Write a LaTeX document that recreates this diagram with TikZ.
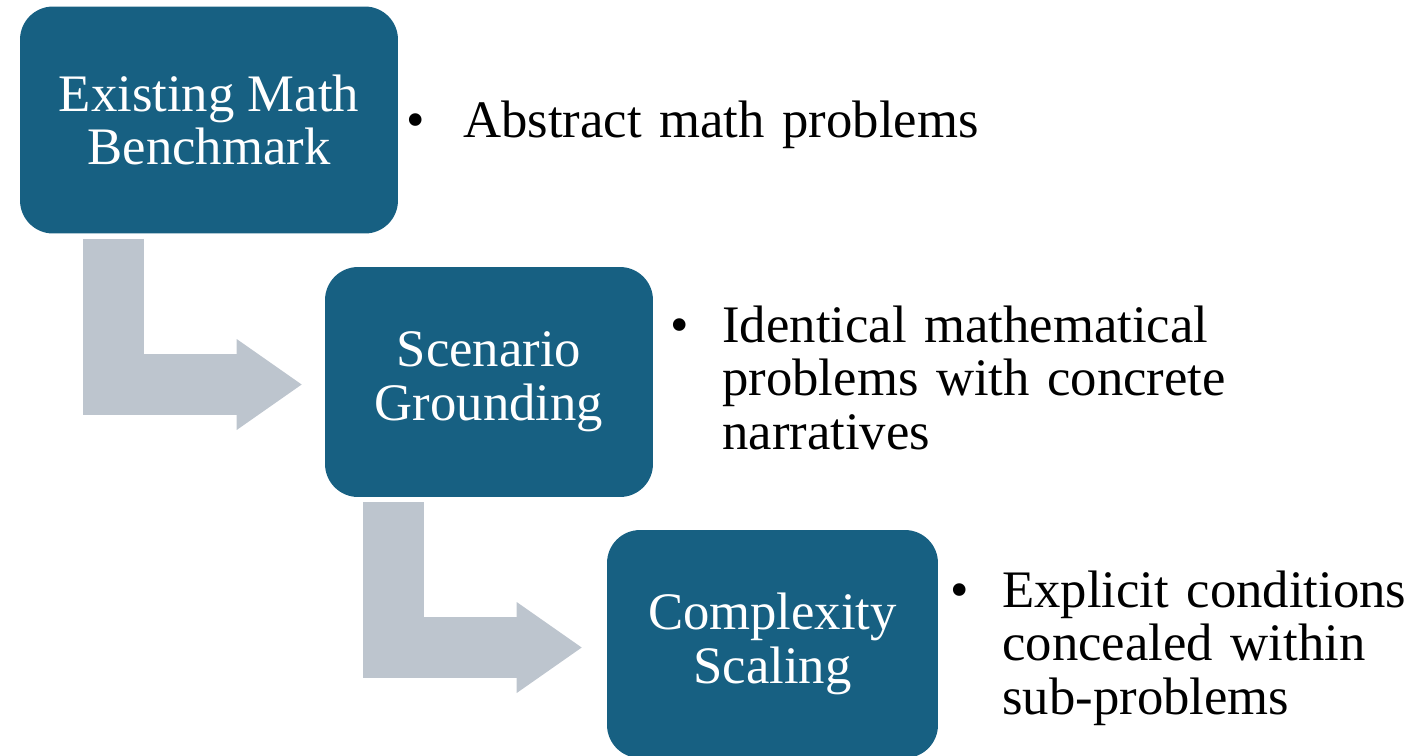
\documentclass[tikz,border=0pt]{standalone}
\usepackage{fontspec}
\setmainfont{Liberation Serif}
\usepackage{xcolor}
\usepackage{tikz}
\usetikzlibrary{arrows.meta}
\definecolor{boxblue}{RGB}{23,96,130}
\definecolor{flowgray}{RGB}{189,197,206}

\begin{document}
\begin{tikzpicture}[x=0.02cm, y=-0.02cm,
  box/.style={rectangle, rounded corners=0.66cm, fill=boxblue, text=white,
              minimum width=6.56cm, minimum height=4.56cm, align=center,
              font=\fontsize{30}{30.5}\selectfont},
  arrow/.style={draw=flowgray, line width=1.22cm,
                -{Triangle[length=1.3cm, width=1.82cm, line width=0pt]}},
  bul/.style={anchor=base west, inner sep=0pt, font=\fontsize{30}{30.5}\selectfont},
  lbl/.style={anchor=base west, inner sep=0pt, text width=14cm, align=left,
              font=\fontsize{30}{30.5}\selectfont}
]
\useasboundingbox (0,0) rectangle (1419,755);
\node[box, minimum width=7.56cm, minimum height=4.54cm] (A) at (209,120) {Existing Math\\Benchmark};
\node[box, minimum height=4.6cm] (B) at (489,382)   {Scenario\\Grounding};
\node[box, minimum width=6.62cm] (C) at (772.5,644) {Complexity\\Scaling};
\draw[arrow, shorten >=0.46cm] ([xshift=1.87cm, yshift=-0.1cm]A.south west) |- ([yshift=-0.05cm]B.west);
\draw[arrow, shorten >=0.5cm]  ([xshift=1.37cm, yshift=-0.1cm]B.south west) |- ([yshift=-0.07cm]C.west);
\node[bul] (d1) at (406,137) {•};
\node[lbl] (t1) at (463,137) {Abstract math problems};
\node[bul] (d2) at (670,342) {•};
\node[lbl] (t2) at (722,342) {Identical mathematical\\problems with concrete\\narratives};
\node[bul] (d3) at (950,607) {•};
\node[lbl] (t3) at (1002,607) {Explicit conditions\\concealed within\\sub-problems};
\end{tikzpicture}
\end{document}
